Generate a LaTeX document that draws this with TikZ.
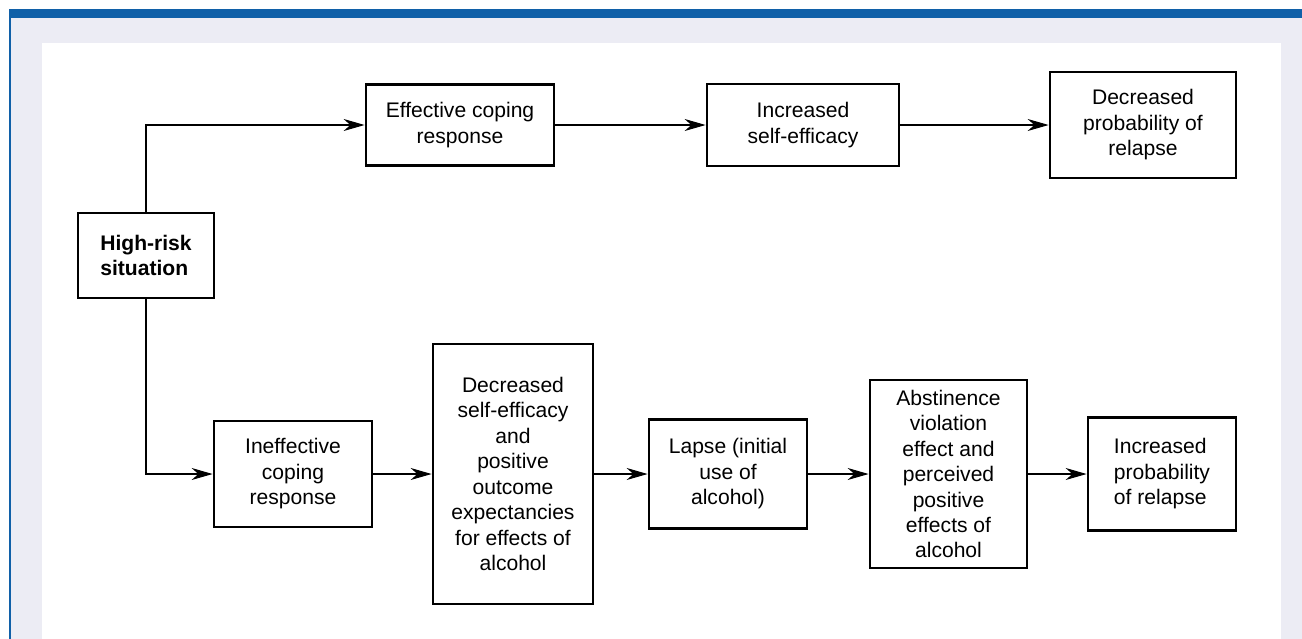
\documentclass[tikz,border=0pt]{standalone}
\usepackage{fontspec}
\setmainfont{Liberation Sans}
\usetikzlibrary{arrows.meta}

\definecolor{barblue}{RGB}{16,96,168}
\definecolor{panelgray}{RGB}{236,236,244}

\tikzset{
	stagebox/.style={draw, line width=1.6pt, align=center, inner sep=2pt,
		font=\fontsize{12}{14.5}\selectfont},
	flow/.style={-{Stealth[length=4.2mm,width=2.4mm]}, line width=0.6pt},
}

\begin{document}
\begin{tikzpicture}[x=0.02cm, y=-0.02cm]
	% frame
	\useasboundingbox (0,0) rectangle (1302,639);
	\fill[white] (0,0) rectangle (1302,639);
	\fill[panelgray] (11,18) rectangle (1302,639);
	\fill[barblue] (9,9) rectangle (1302,18);
	\fill[barblue] (9,9) rectangle (11,639);
	\fill[white] (42,43) rectangle (1281,639);

	\node[stagebox, align=left, minimum width=2.72cm, minimum height=1.70cm, font=\fontsize{12}{14.5}\selectfont\bfseries] (risk) at (146,255.5) {High-risk\\situation};

	% upper path
	\node[stagebox, minimum width=3.76cm, minimum height=1.62cm] (effcope) at (460,125) {Effective coping\\response};
	\node[stagebox, minimum width=3.84cm, minimum height=1.64cm] (incse) at (803,125) {Increased\\self-efficacy};
	\node[stagebox, minimum width=3.72cm, minimum height=2.12cm] (decprob) at (1143,125) {Decreased\\probability of\\relapse};

	% lower path
	\node[stagebox, minimum width=3.16cm, minimum height=2.12cm] (ineffcope) at (293,474) {Ineffective\\coping\\response};
	\node[stagebox, minimum width=3.20cm, minimum height=5.20cm] (decse) at (513,474) {Decreased\\self-efficacy\\and\\positive\\outcome\\expectancies\\for effects of\\alcohol};
	\node[stagebox, minimum width=3.16cm, minimum height=2.18cm] (lapse) at (728,474) {Lapse (initial\\use of\\alcohol)};
	\node[stagebox, minimum width=3.14cm, minimum height=3.76cm] (ave) at (948.5,474) {Abstinence\\violation\\effect and\\perceived\\positive\\effects of\\alcohol};
	\node[stagebox, align=left, minimum width=2.96cm, minimum height=2.26cm] (incprob) at (1162,474) {Increased\\probability\\of relapse};

	\draw[flow] (risk.north) |- (effcope);
	\draw[flow] (effcope) -- (incse);
	\draw[flow] (incse) -- (decprob);

	\draw[flow] (risk.south) |- (ineffcope);
	\draw[flow] (ineffcope) -- (decse);
	\draw[flow] (decse) -- (lapse);
	\draw[flow] (lapse) -- (ave);
	\draw[flow] (ave) -- (incprob);
\end{tikzpicture}
\end{document}
